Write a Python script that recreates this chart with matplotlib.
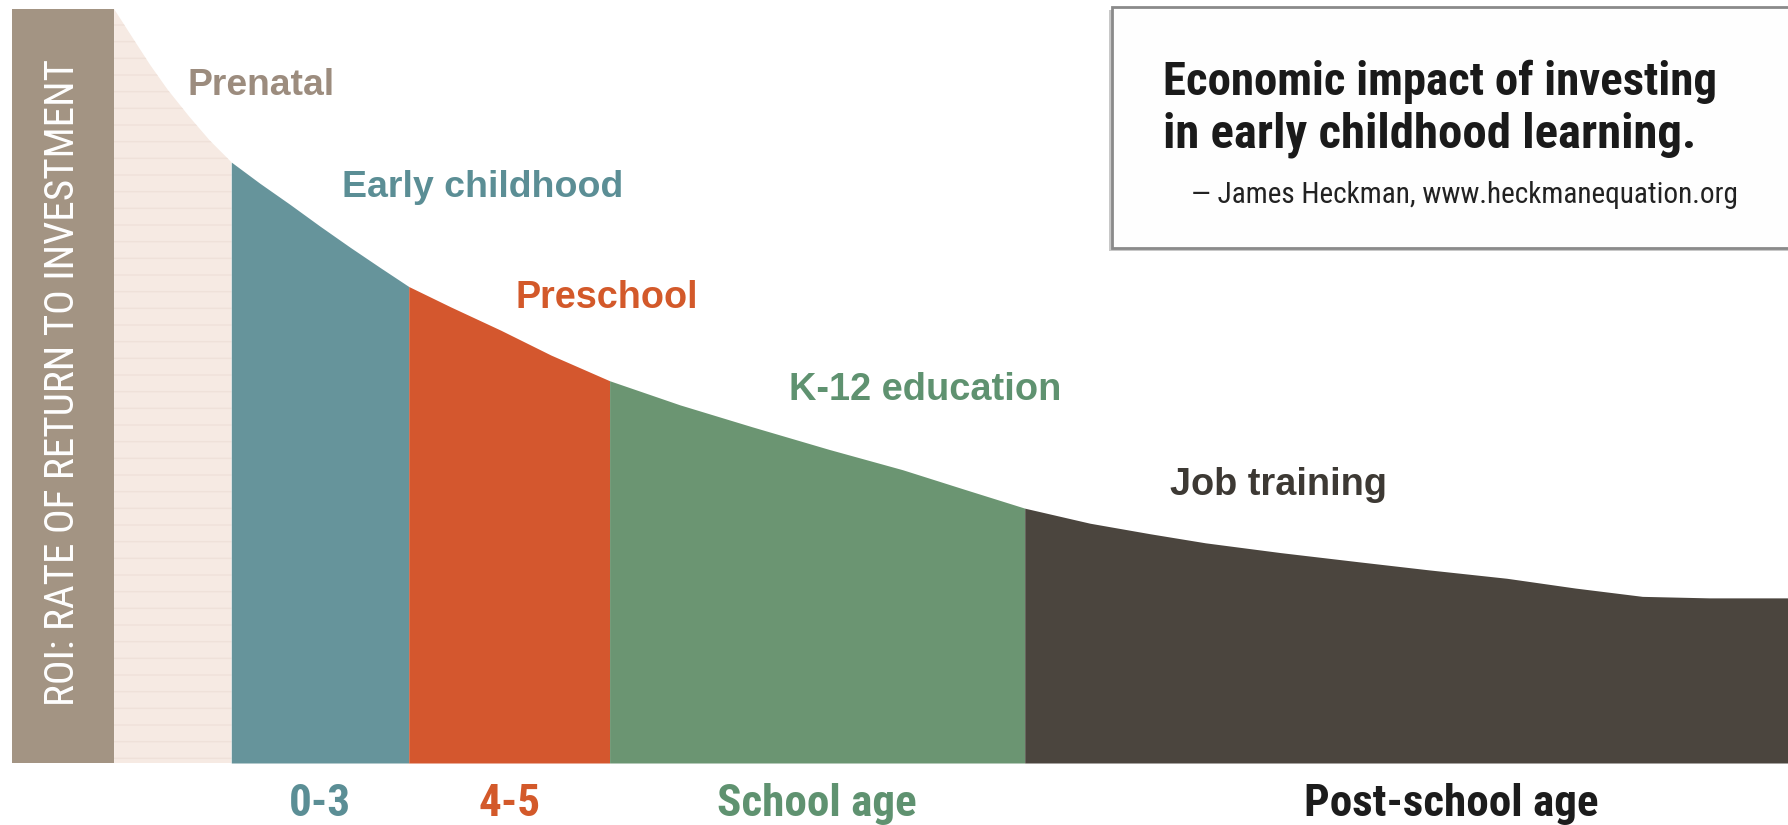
import numpy as np
import matplotlib
matplotlib.use("Agg")
import matplotlib.pyplot as plt
from matplotlib import font_manager
from matplotlib.font_manager import FontProperties
from matplotlib.patches import Rectangle

# stages along the age axis (position 0-100), boundaries between them
stages = ["Prenatal", "Early childhood", "Preschool", "K-12 education", "Job training"]
bounds = [0.0, 7.0, 17.6, 29.6, 54.4, 100.0]
ages = ["", "0-3", "4-5", "School age", "Post-school age"]

# ROI curve (relative units, 0-100)
pos = [0.0, 1.1, 2.15, 3.2, 4.5, 5.7, 7.0, 8.7, 10.5, 12.3, 14.1, 15.9, 17.6, 20.1,
       23.1, 26.1, 29.6, 33.8, 38.1, 42.7, 47.1, 50.8, 54.4, 58.3, 61.9, 65.2, 69.7,
       74.3, 78.6, 83.2, 87.3, 91.3, 95.3, 100.0]
roi = [100.0, 96.2, 92.6, 89.3, 85.7, 82.6, 79.7, 76.9, 74.1, 71.2, 68.4, 65.7, 63.2, 60.5,
       57.4, 54.1, 50.7, 47.5, 44.6, 41.6, 38.9, 36.3, 33.8, 31.8, 30.4, 29.2, 27.9,
       26.7, 25.6, 24.5, 23.2, 22.1, 21.9, 21.9]

fill_colors = ["#f6eae3", "#66949b", "#d4572e", "#6b9572", "#4b453e"]
text_colors = ["#9c8c7e", "#5b8e95", "#d3592a", "#5f9270", "#3d3934"]
age_colors = ["", "#5b8e95", "#d3592a", "#5f9270", "#1c1c1c"]


def weight_num(w):
    if isinstance(w, str):
        return font_manager.weight_dict.get(w, 400)
    return w


def pick_font(bold, narrow):
    fl = font_manager.fontManager.ttflist
    want = 700 if bold else 400
    if narrow:
        cands = [f for f in fl if f.style == "normal" and (
            "Narrow" in f.name or "Condensed" in f.name or
            f.stretch in ("condensed", "semi-condensed", "extra-condensed"))]
        order = ["Liberation Sans Narrow", "Roboto Condensed", "Noto Sans",
                 "Noto Sans Condensed", "DejaVu Sans", "DejaVu Sans Condensed", "Open Sans"]
    else:
        cands = [f for f in fl if f.style == "normal" and f.name == "Liberation Sans"
                 and f.stretch == "normal"]
        order = ["Liberation Sans"]
    if not cands:
        if narrow:
            return pick_font(bold, False)
        return FontProperties(family="DejaVu Sans", weight="bold" if bold else "normal")

    def key(f):
        rank = order.index(f.name) if f.name in order else len(order)
        st = {"condensed": 0, "semi-condensed": 1, "extra-condensed": 2}.get(f.stretch, 3)
        return (rank, st, abs(weight_num(f.weight) - want))
    best = sorted(cands, key=key)[0]
    return FontProperties(fname=best.fname)


bold_wide = pick_font(True, False)
bold_narrow = pick_font(True, True)
reg_narrow = pick_font(False, True)

fig = plt.figure(figsize=(17.88, 8.25), dpi=100)
W, H = 1788, 825
# axes spans from the left edge of the ROI bar to the right edge
ax = fig.add_axes([12 / W, (H - 763) / H, 1 - 12 / W, (763 - 9) / H])
ax.set_xlim(-6.1, 100)
ax.set_ylim(0, 100)
ax.axis("off")

x = np.array(pos)
y = np.array(roi)
for i in range(len(stages)):
    lo, hi = bounds[i], bounds[i + 1]
    m = (x >= lo - 1e-9) & (x <= hi + 1e-9)
    if i == 0:
        ax.fill_between(x[m], 0, y[m], facecolor=fill_colors[i], edgecolor="#efe1d9",
                        hatch="-", linewidth=0)
    else:
        ax.fill_between(x[m], 0, y[m], color=fill_colors[i], linewidth=0)

fits = []  # (text, target length in pixels, vertical)

# ROI bar on the left
ax.axvspan(-6.1, 0, color="#a39483", linewidth=0)
t = ax.text(-3.1, 50.5, "ROI: RATE OF RETURN TO INVESTMENT", rotation=90, ha="center",
            va="center", color="white", fontproperties=reg_narrow, fontsize=28)
fits.append((t, 648, True))

# stage labels
label_xy = [(4.4, 88.6), (13.6, 75.1), (24.0, 60.3), (40.3, 48.1), (63.1, 35.5)]
label_w = [147, 281, 182, 272, 216]
for (lx, ly), s, c, w in zip(label_xy, stages, text_colors, label_w):
    t = ax.text(lx, ly, s, color=c, fontproperties=bold_wide, fontsize=26.5,
                ha="left", va="baseline")
    fits.append((t, w, False))

# age labels under the stages (one common size)
age_x = [0, 12.3, 23.6, 42.0, 79.9]
age_texts = []
for ax_x, s, c in zip(age_x, ages, age_colors):
    if s:
        t = ax.text(ax_x, -7.0, s, color=c, fontproperties=bold_narrow, fontsize=30,
                    ha="center", va="baseline", clip_on=False)
        age_texts.append(t)

# quote box with a soft shadow
fig.patches.append(Rectangle((1109 / W, (H - 251) / H), 700 / W, 241 / H,
                             transform=fig.transFigure, facecolor="#c8c8c8",
                             edgecolor="none"))
fig.patches.append(Rectangle((1112 / W, (H - 248) / H), 700 / W, 241 / H,
                             transform=fig.transFigure, facecolor="#fefefe",
                             edgecolor="#8a8a8a", linewidth=2.0))
t = fig.text(1163 / W, (H - 95) / H, "Economic impact of investing", fontsize=30,
             fontproperties=bold_narrow, color="#1a1a1a", va="baseline")
fits.append((t, 554, False))
t = fig.text(1163 / W, (H - 147) / H, "in early childhood learning.", fontsize=30,
             fontproperties=bold_narrow, color="#1a1a1a", va="baseline")
fits.append((t, 533, False))
t = fig.text(1191 / W, (H - 203) / H, "\u2014 James Heckman, www.heckmanequation.org",
             fontsize=22, fontproperties=reg_narrow, color="#222222", va="baseline")
fits.append((t, 548, False))

# size each text so its length matches the reference
fig.canvas.draw()
r = fig.canvas.get_renderer()
for t, w, vertical in fits:
    bb = t.get_window_extent(r)
    cur = bb.height if vertical else bb.width
    t.set_fontsize(t.get_fontsize() * w / cur)
post = age_texts[-1]
size = post.get_fontsize() * 295 / post.get_window_extent(r).width
for t in age_texts:
    t.set_fontsize(size)

fig.savefig("out.png", dpi=100, facecolor="white")
